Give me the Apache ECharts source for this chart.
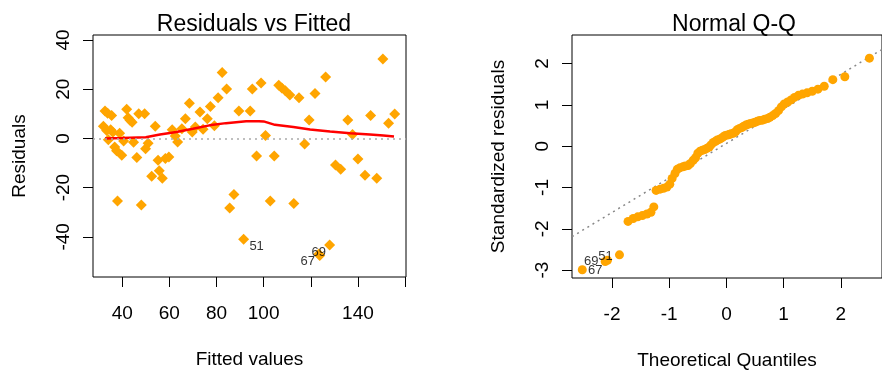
<!DOCTYPE html>
<html>
<head>
<meta charset="utf-8">
<script src="https://cdn.jsdelivr.net/npm/echarts@6/dist/echarts.min.js"></script>
<style>
  html, body { margin: 0; padding: 0; background: #fff; }
  #chart { width: 882px; height: 376px; }
</style>
</head>
<body>
<div id="chart"></div>
<script>
// ── Data: Residuals vs Fitted (fitted, residual) ─────────────────────────
const residPoints = [
  [32.0, 4.9], [32.7, 11.1], [33.4, 3.2], [33.8, 10.2], [34.1, -0.5], [35.1, 3.5],
  [35.5, 9.3], [36.0, 2.5], [36.8, -3.5], [37.6, -5.0], [38.0, -25.4], [38.9, 2.1],
  [39.8, -6.8], [40.6, -1.1], [41.9, 11.8], [42.5, 8.4], [43.3, 7.4], [44.2, 6.6],
  [44.8, -1.6], [46.2, -7.8], [47.0, 10.0], [48.1, -27.1], [49.5, 10.0], [49.9, -4.2],
  [51.0, -2.0], [52.5, -15.4], [54.0, 4.9], [55.2, -8.9], [55.7, -13.1], [57.0, -16.2],
  [58.3, -8.2], [59.8, -7.6], [61.2, 3.5], [62.5, 1.0], [63.5, -1.5], [65.3, 3.9],
  [66.8, 8.0], [68.5, 14.3], [69.7, 2.6], [71.0, 4.6], [73.0, 10.7], [74.3, 3.7],
  [76.1, 8.0], [77.4, 13.0], [79.1, 5.1], [80.7, 16.5], [82.4, 26.8], [84.3, 20.1],
  [85.6, -28.3], [87.4, -22.8], [89.5, 11.1], [91.5, -41.0], [94.3, 11.1], [95.2, 20.1],
  [97.0, -7.2], [98.9, 22.5], [100.8, 1.2], [102.8, -25.4], [104.5, -7.2], [106.4, 21.6],
  [107.7, 20.5], [109.2, 19.4], [111.1, 17.6], [112.8, -26.4], [115.0, 16.5], [117.4, -2.3],
  [119.3, 7.5], [121.8, 18.2], [123.4, -47.0], [123.8, -47.6], [126.3, 24.9], [128.0, -43.3],
  [130.5, -10.8], [132.7, -12.5], [135.7, 7.5], [137.7, 1.6], [140.0, -8.4], [143.0, -15.0],
  [145.4, 9.3], [148.0, -16.2], [150.6, 32.3], [153.0, 6.2], [155.6, 9.9]
];
// point labels: [fitted, residual, id]
const residIds = [[91.5, -41.0, '51'], [123.4, -47.0, '69'], [123.8, -47.6, '67']];

// lowess smoother
const smoothLine = [
  [32.7, 0.0], [40, 0.2], [50, 0.5], [56, 1.6], [63, 2.6], [70, 3.9], [77, 5.3],
  [84, 6.2], [92.6, 7.0], [98, 7.0], [100, 6.9], [104.8, 5.5], [112.6, 4.6],
  [119.7, 3.6], [128.2, 2.8], [136.7, 2.1], [145.1, 1.6], [150.8, 1.2], [155.3, 0.8]
];

// ── Data: Normal Q-Q (theoretical, standardized) ─────────────────────────
const qqPoints = [
  [-2.52, -2.99], [-2.12, -2.79], [-2.08, -2.76], [-1.87, -2.63],
  [-1.72, -1.82], [-1.63, -1.75], [-1.55, -1.71], [-1.47, -1.68], [-1.39, -1.64], [-1.32, -1.60], [-1.27, -1.47],
  [-1.23, -1.07], [-1.16, -1.04], [-1.10, -1.02], [-1.04, -0.99], [-0.99, -0.92], [-0.95, -0.78],
  [-0.90, -0.66], [-0.86, -0.56], [-0.81, -0.52], [-0.76, -0.50], [-0.72, -0.48], [-0.67, -0.47],
  [-0.63, -0.42], [-0.58, -0.34], [-0.54, -0.28], [-0.50, -0.17], [-0.46, -0.12], [-0.42, -0.10],
  [-0.38, -0.08], [-0.34, -0.05], [-0.30, -0.02], [-0.27, 0.03], [-0.23, 0.09], [-0.19, 0.12],
  [-0.16, 0.15], [-0.12, 0.17], [-0.08, 0.20], [-0.05, 0.23], [-0.02, 0.26],
  [0.02, 0.27], [0.05, 0.28], [0.08, 0.30], [0.12, 0.31], [0.16, 0.35], [0.19, 0.40],
  [0.23, 0.43], [0.27, 0.45], [0.30, 0.48], [0.34, 0.51], [0.38, 0.53], [0.42, 0.55],
  [0.46, 0.56], [0.50, 0.58], [0.54, 0.60], [0.58, 0.62], [0.63, 0.63], [0.67, 0.65],
  [0.72, 0.67], [0.76, 0.70], [0.81, 0.74], [0.86, 0.79], [0.91, 0.86], [0.96, 0.95],
  [1.01, 1.02], [1.07, 1.07], [1.13, 1.12], [1.19, 1.18], [1.26, 1.23], [1.33, 1.26],
  [1.41, 1.29], [1.50, 1.33], [1.60, 1.38], [1.71, 1.45], [1.86, 1.61], [2.07, 1.68], [2.50, 2.13]
];
const qqIds = [[-2.52, -2.99, '67'], [-2.12, -2.79, '69'], [-2.08, -2.76, '51']];
const qqLine = [[-2.70, -2.19], [2.72, 2.34]];

// ── Axis ticks ───────────────────────────────────────────────────────────
const fittedTicks = [40, 60, 80, 100, 120, 140, 160];
const fittedLabels = [40, 60, 80, 100, 140];
const residTicks = [-40, -20, 0, 20, 40];
const theoTicks = [-2, -1, 0, 1, 2];
const stdTicks = [-3, -2, -1, 0, 1, 2];

// ── Style ────────────────────────────────────────────────────────────────
const fontFamily = "'Liberation Sans', Arial, sans-serif";
const pointColor = '#FFA500';
const axisFont = 19;
const labelOffsets = { '51r': [13, 7], '69r': [0, -2], '67r': [-12, 6],
                       '67q': [13, 1], '69q': [-14, 0], '51q': [-2, -4] };

function axisCommon(ticks, labels, rotate, margin) {
  return {
    axisLine: { show: false, onZero: false },
    axisTick: { show: true, length: 10, customValues: ticks, lineStyle: { color: '#000', width: 1 } },
    axisLabel: { show: true, customValues: labels, rotate: rotate, margin: margin,
                 fontSize: axisFont, fontFamily: fontFamily, color: '#000' },
    splitLine: { show: false },
    nameTextStyle: { fontSize: axisFont, fontFamily: fontFamily, color: '#000' },
  };
}

const chart = echarts.init(document.getElementById('chart'), null, { renderer: 'canvas' });
chart.setOption({
  animation: false,
  title: [
    { text: 'Residuals vs Fitted', left: 249, top: 8, textAlign: 'center',
      textStyle: { fontSize: 23, fontWeight: 'normal', fontFamily: fontFamily, color: '#000' } },
    { text: 'Normal Q-Q', left: 729, top: 8, textAlign: 'center',
      textStyle: { fontSize: 23, fontWeight: 'normal', fontFamily: fontFamily, color: '#000' } },
  ],
  grid: [
    { left: 93, top: 35, width: 313, height: 242, show: true, borderColor: '#000', borderWidth: 1 },
    { left: 572, top: 35, width: 313, height: 243, show: true, borderColor: '#000', borderWidth: 1 },
  ],
  xAxis: [
    Object.assign(axisCommon(fittedTicks, fittedLabels, 0, 27), {
      type: 'value', gridIndex: 0, min: 27.6, max: 160.4,
      name: 'Fitted values', nameLocation: 'middle', nameGap: 73,
    }),
    Object.assign(axisCommon(theoTicks, theoTicks, 0, 27), {
      type: 'value', gridIndex: 1, min: -2.70, max: 2.72,
      name: 'Theoretical Quantiles', nameLocation: 'middle', nameGap: 73,
    }),
  ],
  yAxis: [
    Object.assign(axisCommon(residTicks, residTicks, 90, 20), {
      type: 'value', gridIndex: 0, min: -56.3, max: 42,
      name: 'Residuals', nameLocation: 'middle', nameGap: 64, nameRotate: 90,
    }),
    Object.assign(axisCommon(stdTicks, stdTicks, 90, 20), {
      type: 'value', gridIndex: 1, min: -3.19, max: 2.69,
      name: 'Standardized residuals', nameLocation: 'middle', nameGap: 64, nameRotate: 90,
    }),
  ],
  series: [
    {
      type: 'scatter', xAxisIndex: 0, yAxisIndex: 0, data: residPoints,
      symbol: 'diamond', symbolSize: [11, 11], itemStyle: { color: pointColor, opacity: 1 },
      markLine: {
        silent: true, symbol: 'none', label: { show: false },
        lineStyle: { color: '#aaaaaa', type: [2, 4], width: 1.5 },
        data: [{ yAxis: 0 }],
      },
      z: 2,
    },
    {
      type: 'line', xAxisIndex: 0, yAxisIndex: 0, data: smoothLine,
      showSymbol: false, smooth: false, lineStyle: { color: '#FF0000', width: 2.5 }, z: 3,
    },
    {
      type: 'scatter', xAxisIndex: 0, yAxisIndex: 0,
      data: residIds.map(d => ({ value: [d[0], d[1]], name: d[2],
        label: { offset: labelOffsets[d[2] + 'r'] } })),
      symbolSize: 0,
      label: { show: true, position: 'inside', formatter: p => p.name,
               fontSize: 13, fontFamily: fontFamily, color: '#000' },
      z: 4,
    },
    {
      type: 'line', xAxisIndex: 1, yAxisIndex: 1, data: qqLine,
      showSymbol: false, lineStyle: { color: '#888888', type: [2, 4], width: 1.5 }, z: 1,
    },
    {
      type: 'scatter', xAxisIndex: 1, yAxisIndex: 1, data: qqPoints,
      symbol: 'circle', symbolSize: 9, itemStyle: { color: pointColor, opacity: 1 }, z: 2,
    },
    {
      type: 'scatter', xAxisIndex: 1, yAxisIndex: 1,
      data: qqIds.map(d => ({ value: [d[0], d[1]], name: d[2],
        label: { offset: labelOffsets[d[2] + 'q'] } })),
      symbolSize: 0,
      label: { show: true, position: 'inside', formatter: p => p.name,
               fontSize: 13, fontFamily: fontFamily, color: '#000' },
      z: 4,
    },
  ],
});
</script>
</body>
</html>
